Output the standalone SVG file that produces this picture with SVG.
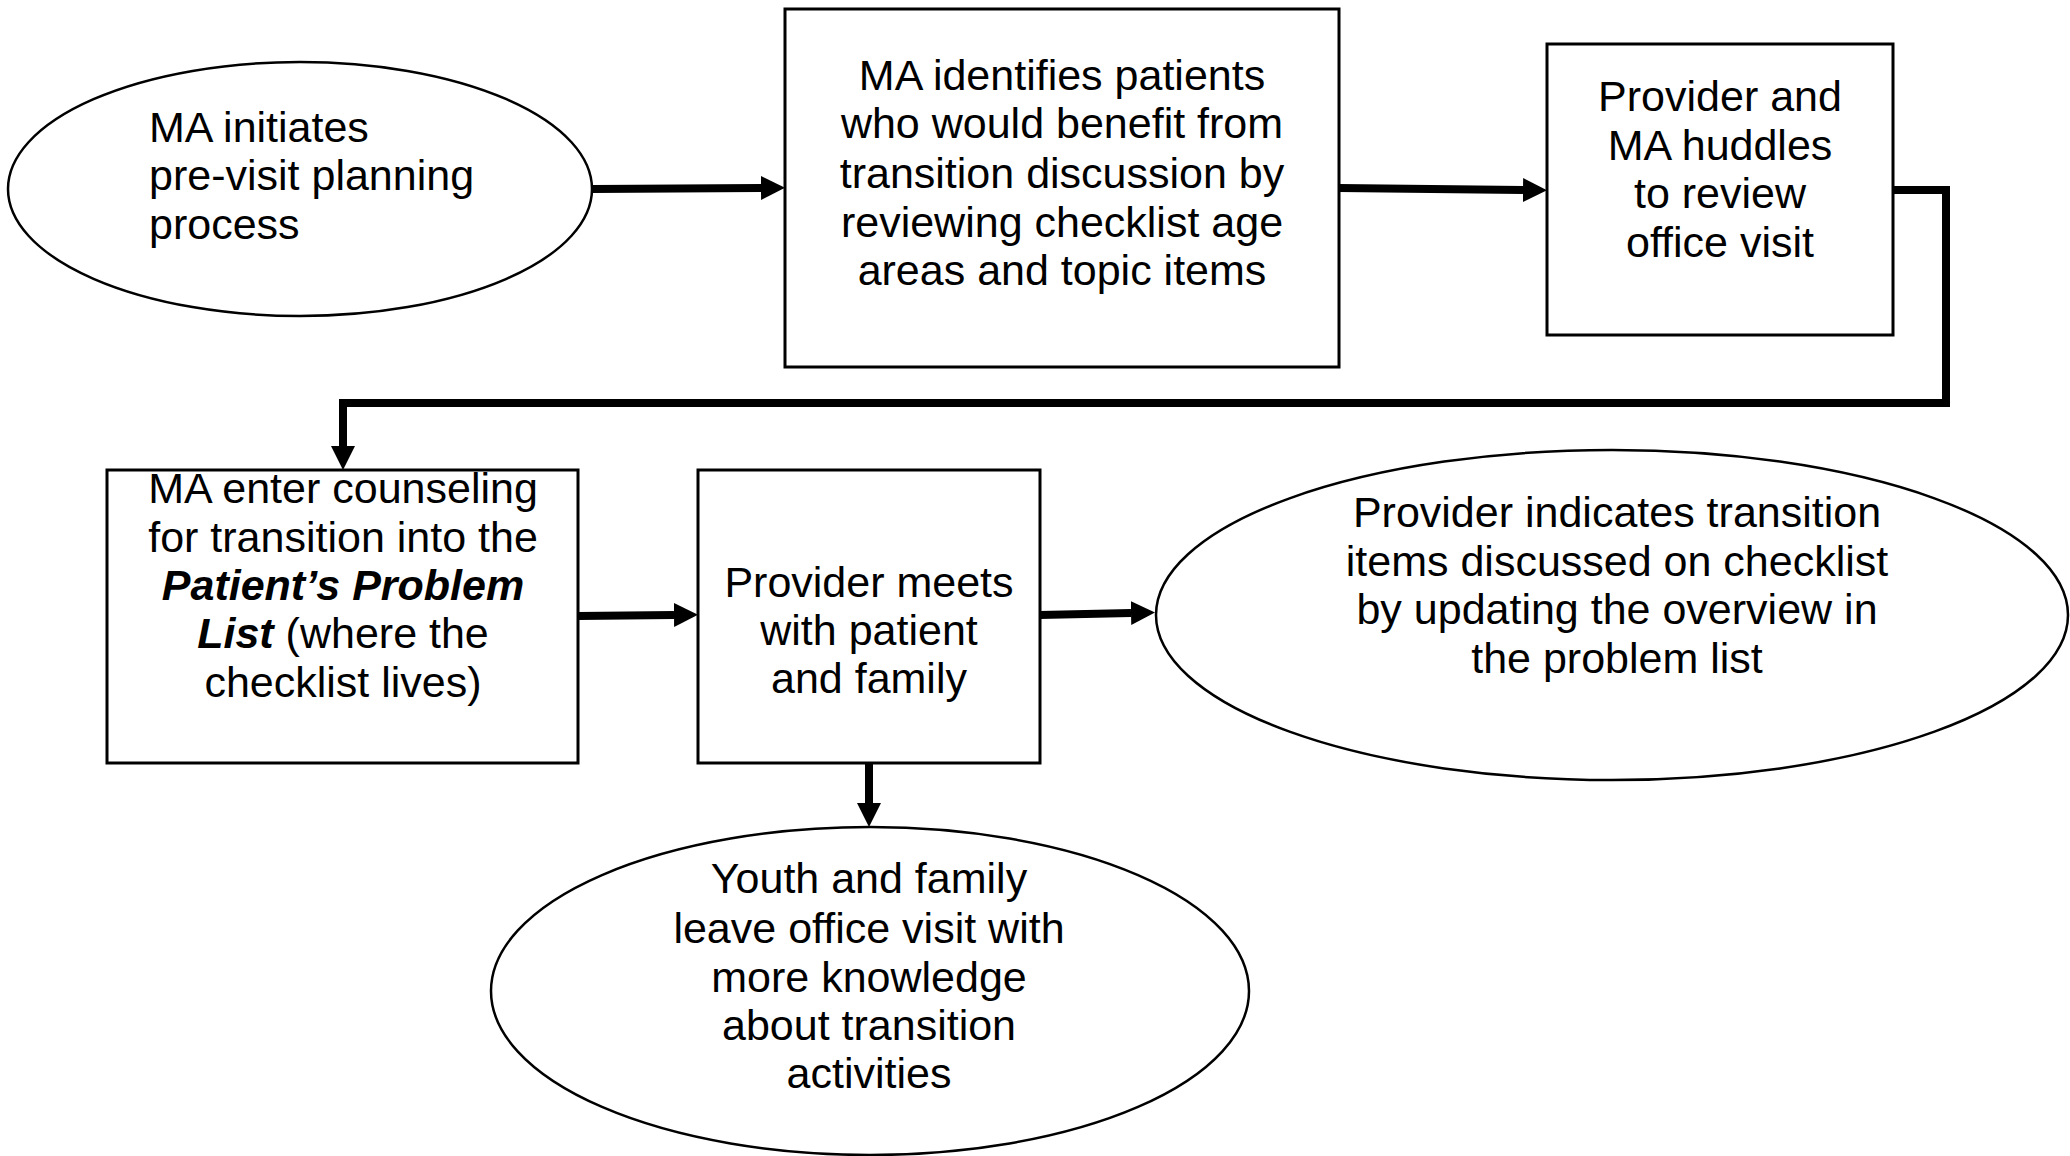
<svg xmlns="http://www.w3.org/2000/svg" width="2070" height="1156" viewBox="0 0 2070 1156">
<style>
.box{fill:#fff;stroke:#000;stroke-width:3}
.ell{fill:#fff;stroke:#000;stroke-width:2.5}
.t{font-family:"Liberation Sans",Arial,sans-serif;font-size:43px;fill:#000}
.c{text-anchor:middle}
.bi{font-weight:bold;font-style:italic}
.con{fill:none;stroke:#000;stroke-width:8;stroke-linejoin:miter}
</style>
<defs>
<marker id="ah" markerUnits="userSpaceOnUse" viewBox="0 0 24 24" refX="0" refY="12" markerWidth="24" markerHeight="24" orient="auto">
<path d="M0,0 L24,12 L0,24 Z" fill="#000"/>
</marker>
</defs>
<rect width="2070" height="1156" fill="#fff"/>
<g id="connectors">
<path class="con" d="M593,189 L761,188" marker-end="url(#ah)"/>
<path class="con" d="M1339,188 L1523,190" marker-end="url(#ah)"/>
<path class="con" d="M1893,190 H1946 V403 H343 V446" marker-end="url(#ah)"/>
<path class="con" d="M578,616 L674,615" marker-end="url(#ah)"/>
<path class="con" d="M1040,615 L1131,613" marker-end="url(#ah)"/>
<path class="con" d="M869,763 L869,803" marker-end="url(#ah)"/>
</g>
<g id="n1">
<ellipse class="ell" cx="300" cy="189" rx="292" ry="127"/>
<text class="t" x="149" y="142">MA initiates</text>
<text class="t" x="149" y="190">pre-visit planning</text>
<text class="t" x="149" y="239">process</text>
</g>
<g id="n2">
<rect class="box" x="785" y="9" width="554" height="358"/>
<text class="t c" x="1062" y="90">MA identifies patients</text>
<text class="t c" x="1062" y="138">who would benefit from</text>
<text class="t c" x="1062" y="188">transition discussion by</text>
<text class="t c" x="1062" y="237">reviewing checklist age</text>
<text class="t c" x="1062" y="285">areas and topic items</text>
</g>
<g id="n3">
<rect class="box" x="1547" y="44" width="346" height="291"/>
<text class="t c" x="1720" y="111">Provider and</text>
<text class="t c" x="1720" y="160">MA huddles</text>
<text class="t c" x="1720" y="208">to review</text>
<text class="t c" x="1720" y="257">office visit</text>
</g>
<g id="n4">
<rect class="box" x="107" y="470" width="471" height="293"/>
<text class="t c" x="343" y="503">MA enter counseling</text>
<text class="t c" x="343" y="552">for transition into the</text>
<text class="t c bi" x="343" y="600">Patient’s Problem</text>
<text class="t c" x="343" y="648"><tspan class="bi">List</tspan> (where the</text>
<text class="t c" x="343" y="697">checklist lives)</text>
</g>
<g id="n5">
<rect class="box" x="698" y="470" width="342" height="293"/>
<text class="t c" x="869" y="597">Provider meets</text>
<text class="t c" x="869" y="645">with patient</text>
<text class="t c" x="869" y="693">and family</text>
</g>
<g id="n6">
<ellipse class="ell" cx="1612" cy="615" rx="456" ry="165"/>
<text class="t c" x="1617" y="527">Provider indicates transition</text>
<text class="t c" x="1617" y="576">items discussed on checklist</text>
<text class="t c" x="1617" y="624">by updating the overview in</text>
<text class="t c" x="1617" y="673">the problem list</text>
</g>
<g id="n7">
<ellipse class="ell" cx="870" cy="991" rx="379" ry="164"/>
<text class="t c" x="869" y="893">Youth and family</text>
<text class="t c" x="869" y="943">leave office visit with</text>
<text class="t c" x="869" y="992">more knowledge</text>
<text class="t c" x="869" y="1040">about transition</text>
<text class="t c" x="869" y="1088">activities</text>
</g>
</svg>
